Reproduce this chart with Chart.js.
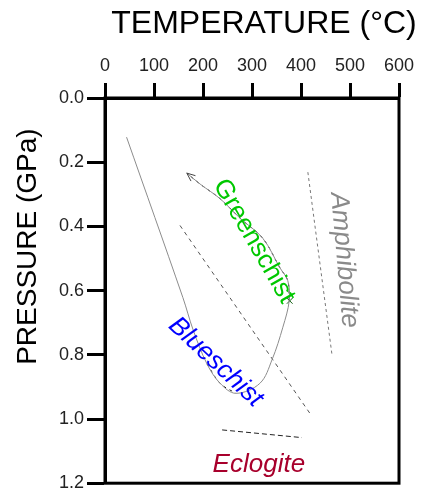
<!DOCTYPE html>
<html>
<head>
<meta charset="utf-8">
<script src="https://cdn.jsdelivr.net/npm/chart.js@4.4.1/dist/chart.umd.min.js"></script>
<style>
  body { margin: 0; background: #fff; }
  #wrap { width: 421px; height: 497px; position: relative; }
</style>
</head>
<body>
<div id="wrap"><canvas id="pt"></canvas></div>
<script>
// tick values
const tempTicks = [0, 100, 200, 300, 400, 500, 600]
const presTicks = [0.0, 0.2, 0.4, 0.6, 0.8, 1.0, 1.2]

// P-T path (temperature in C, pressure in GPa), ends at the arrow
const pathT = [44, 159, 180, 208, 235, 267, 316, 341, 363, 376, 373, 357, 322, 276, 235, 194, 167]
const pathP = [0.122, 0.622, 0.723, 0.828, 0.889, 0.920, 0.889, 0.815, 0.714, 0.631, 0.569, 0.529, 0.437, 0.375, 0.314, 0.268, 0.234]

// facies boundaries
const gbT = [153, 418], gbP = [0.397, 0.982]   // greenschist / blueschist
const amT = [414, 463], amP = [0.231, 0.797]   // amphibolite
const ecT = [239, 402], ecP = [1.034, 1.058]   // eclogite

// marker on the path
const markT = [377], markP = [0.632]

// facies names
const faciesNames = ['Greenschist', 'Blueschist', 'Amphibolite', 'Eclogite']
const faciesT = [304, 226, 488, 314]
const faciesP = [0.446, 0.823, 0.505, 1.142]
const faciesAngle = [60, 43, 85, 0]
const faciesColor = ['#00c800', '#0000ff', '#8a8a8a', '#a8002c']
const faciesItalic = [false, true, true, true]

function pts(xs, ys) {
  return xs.map((x, i) => ({ x: x, y: ys[i] }))
}

const retro = pts(pathT.slice(9), pathP.slice(9))
const prograde = pts(pathT.slice(3, 6), pathP.slice(3, 6))

const FONT = "'Liberation Sans', Arial, sans-serif"

const labelsPlugin = {
  id: 'labels',
  afterDatasetsDraw(chart) {
    const ctx = chart.ctx
    const xs = chart.scales.x, ys = chart.scales.y
    const a = chart.chartArea

    // arrow head on the end of the path
    const meta = chart.getDatasetMeta(0).data
    const p1 = meta[meta.length - 1], p0 = meta[meta.length - 2]
    const ang = Math.atan2(p1.y - p0.y, p1.x - p0.x)
    ctx.save()
    ctx.strokeStyle = '#444'
    ctx.lineWidth = 1
    ctx.beginPath()
    ctx.moveTo(p1.x - 9 * Math.cos(ang - 0.4), p1.y - 9 * Math.sin(ang - 0.4))
    ctx.lineTo(p1.x, p1.y)
    ctx.lineTo(p1.x - 9 * Math.cos(ang + 0.4), p1.y - 9 * Math.sin(ang + 0.4))
    ctx.stroke()
    ctx.restore()

    // facies names
    faciesNames.forEach((name, i) => {
      ctx.save()
      ctx.translate(xs.getPixelForValue(faciesT[i]), ys.getPixelForValue(faciesP[i]))
      ctx.rotate(faciesAngle[i] * Math.PI / 180)
      ctx.font = (faciesItalic[i] ? 'italic ' : '') + '26px ' + FONT
      ctx.fillStyle = faciesColor[i]
      ctx.textAlign = 'center'
      ctx.textBaseline = 'middle'
      ctx.fillText(name, 0, 0)
      ctx.restore()
    })

    // axis titles
    ctx.save()
    ctx.fillStyle = '#000'
    ctx.textAlign = 'center'
    ctx.textBaseline = 'middle'
    ctx.font = '32px ' + FONT
    ctx.fillText('TEMPERATURE (\u00b0C)', (a.left + a.right) / 2 + 12, 24)
    ctx.translate(28, (a.top + a.bottom) / 2 - 44)
    ctx.rotate(-Math.PI / 2)
    ctx.font = '28px ' + FONT
    ctx.fillText('PRESSURE (GPa)', 0, 0)
    ctx.restore()

    // frame
    ctx.save()
    ctx.strokeStyle = '#000'
    ctx.lineWidth = 3
    ctx.strokeRect(a.left, a.top, a.right - a.left, a.bottom - a.top)
    ctx.restore()
  }
}

new Chart(document.getElementById('pt'), {
  type: 'scatter',
  data: {
    datasets: [
      { data: pts(pathT, pathP), showLine: true, tension: 0.35, borderColor: '#8c8c8c', borderWidth: 1, pointRadius: 0 },
      { data: retro, showLine: true, tension: 0.35, borderColor: '#222', borderWidth: 1, borderDash: [3, 4], pointRadius: 0 },
      { data: prograde, showLine: true, tension: 0.35, borderColor: '#222', borderWidth: 1, borderDash: [3, 4], pointRadius: 0 },
      { data: pts(gbT, gbP), showLine: true, borderColor: '#555', borderWidth: 1, borderDash: [4, 4], pointRadius: 0 },
      { data: pts(amT, amP), showLine: true, borderColor: '#777', borderWidth: 1, borderDash: [3, 3], pointRadius: 0 },
      { data: pts(ecT, ecP), showLine: true, borderColor: '#222', borderWidth: 1, borderDash: [5, 3], pointRadius: 0 },
      { data: pts(markT, markP), pointStyle: 'crossRot', pointRadius: 4, borderColor: '#0a5a0a', borderWidth: 1 }
    ]
  },
  options: {
    responsive: true,
    maintainAspectRatio: false,
    animation: false,
    layout: { padding: { left: 0, top: 0, right: 22, bottom: 9 } },
    plugins: { legend: { display: false }, tooltip: { enabled: false } },
    scales: {
      x: {
        type: 'linear',
        position: 'top',
        min: 0, max: 600,
        afterBuildTicks: s => { s.ticks = tempTicks.map(v => ({ value: v })) },
        afterFit: s => { s.height = 98 },
        ticks: { font: { size: 18, family: FONT }, color: '#222', padding: 6 },
        grid: { drawOnChartArea: false, tickLength: 15, tickWidth: 3, tickColor: '#000' },
        border: { width: 3, color: '#000' }
      },
      y: {
        type: 'linear',
        reverse: true,
        min: 0, max: 1.2,
        afterBuildTicks: s => { s.ticks = presTicks.map(v => ({ value: v })) },
        afterFit: s => { s.width = 105 },
        ticks: { font: { size: 18, family: FONT }, color: '#222', padding: 3, callback: v => v.toFixed(1) },
        grid: { drawOnChartArea: false, tickLength: 18, tickWidth: 3, tickColor: '#000' },
        border: { width: 3, color: '#000' }
      }
    }
  },
  plugins: [labelsPlugin]
})
</script>
</body>
</html>
